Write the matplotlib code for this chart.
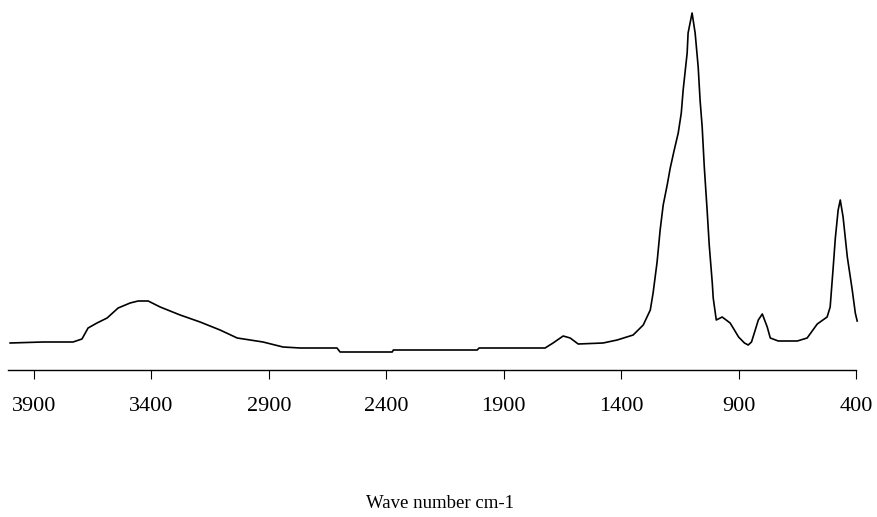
import matplotlib
matplotlib.use("Agg")
import matplotlib.pyplot as plt

wavenumber = [4002, 3862, 3734, 3696, 3670, 3632, 3589, 3542, 3491, 3457, 3414,
              3363, 3278, 3193, 3108, 3035, 2925, 2840, 2767, 2610, 2597, 2375,
              2370, 2013, 2005, 1724, 1690, 1647, 1617, 1583, 1477, 1417, 1349,
              1306, 1276, 1264, 1247, 1234, 1221, 1204, 1191, 1174, 1157, 1144,
              1136, 1119, 1115, 1098, 1085, 1072, 1064, 1055, 1046, 1034, 1025,
              1012, 1008, 995, 970, 936, 923, 900, 875, 859, 845, 829, 816, 799,
              778, 765, 731, 650, 608, 565, 523, 510, 497, 488, 476, 467, 455,
              437, 416, 403, 395]
absorbance = [27, 28, 28, 31, 42, 47, 52, 62, 67, 69, 69,
              63, 55, 48, 40, 32, 28, 23, 22, 22, 18, 18,
              20, 20, 22, 22, 27, 34, 32, 26, 27, 30, 35,
              45, 60, 77, 108, 140, 165, 185, 202, 220, 237, 257,
              280, 317, 337, 357, 337, 303, 270, 243, 203, 160, 125,
              87, 72, 50, 53, 47, 42, 33, 27, 25, 28, 40, 50, 56,
              43, 32, 29, 29, 32, 46, 53, 63, 103, 132, 160, 170, 153,
              113, 80, 57, 49]
tick_values = [3900, 3400, 2900, 2400, 1900, 1400, 900, 400]
x_label = "Wave number cm-1"

W, H = 878, 517
fig = plt.figure(figsize=(W / 100, H / 100), dpi=100)
ax = fig.add_axes([8 / W, (H - 370) / H, 848 / W, 370 / H])

ax.plot(wavenumber, absorbance, color="black", linewidth=1.2, clip_on=False)
ax.set_xlim(4011, 400)
ax.set_ylim(0, 370)

for s in ["top", "left", "right"]:
    ax.spines[s].set_visible(False)
ax.spines["bottom"].set_linewidth(1.0)
ax.set_yticks([])
ax.set_xticks(tick_values)
ax.set_xticklabels([str(v) for v in tick_values],
                   fontfamily="Liberation Serif", fontsize=16)
ax.tick_params(axis="x", direction="out", length=6.5, width=0.8, pad=13)

fig.text(440 / W, 1 - 503 / H, x_label, fontfamily="Liberation Serif",
         fontsize=13.5, ha="center", va="center")

fig.savefig("out.png", dpi=100)
